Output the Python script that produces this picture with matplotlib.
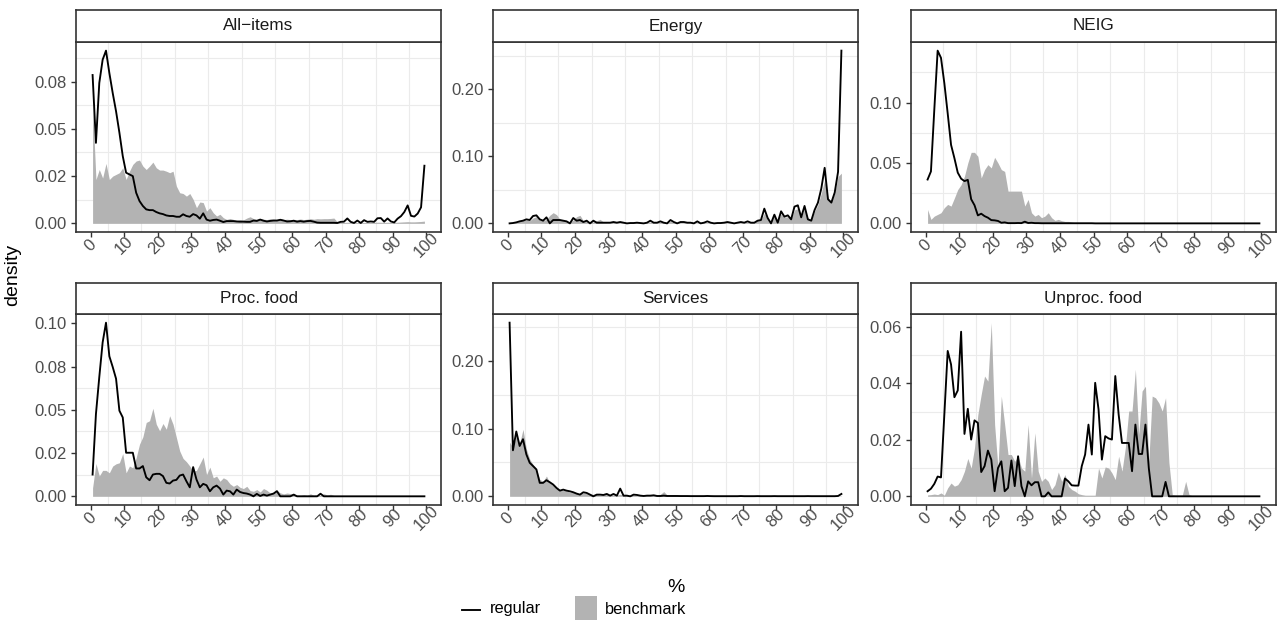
import numpy as np
import matplotlib
matplotlib.use('Agg')
from matplotlib import pyplot as plt
from matplotlib.lines import Line2D
from matplotlib.patches import Rectangle

plt.rcParams['font.family'] = ['Liberation Sans', 'DejaVu Sans']

# bin midpoints (%)
pct = np.arange(0.5, 100.0, 1.0)
x_ticks = [0, 10, 20, 30, 40, 50, 60, 70, 80, 90, 100]

allitems_regular = [
    0.0785, 0.0426, 0.0743, 0.0866, 0.0914, 0.0796, 0.069, 0.0593, 0.048, 0.0356,
    0.0268, 0.0259, 0.025, 0.0162, 0.0118, 0.0092, 0.0074, 0.007, 0.007, 0.006,
    0.0053, 0.0049, 0.0042, 0.0039, 0.0039, 0.0035, 0.0035, 0.0048, 0.0039, 0.0035,
    0.0049, 0.0042, 0.0025, 0.0053, 0.002, 0.0014, 0.0018, 0.002, 0.0014, 0.0007,
    0.0012, 0.0012, 0.0012, 0.001, 0.0009, 0.0009, 0.0008, 0.0008, 0.0015, 0.0013,
    0.002, 0.0014, 0.001, 0.0013, 0.0015, 0.0015, 0.0019, 0.0015, 0.001, 0.0011,
    0.0014, 0.0009, 0.0012, 0.0009, 0.0012, 0.0013, 0.0009, 0.0004, 0.0003, 0.0003,
    0.0003, 0.0003, 0.0003, 0.0002, 0.0008, 0.0009, 0.0026, 0.0008, 0.0002, 0.0015,
    0.0002, 0.0017, 0.0008, 0.001, 0.0008, 0.0027, 0.0028, 0.0009, 0.0026, 0.001,
    0.0005, 0.0025, 0.0038, 0.006, 0.0095, 0.004, 0.0036, 0.0052, 0.0085, 0.0305,
]
allitems_benchmark = [
    0.0629, 0.0232, 0.0285, 0.024, 0.0317, 0.0232, 0.025, 0.0259, 0.0268, 0.0294,
    0.0232, 0.0276, 0.0312, 0.033, 0.0335, 0.0303, 0.0285, 0.0303, 0.0324, 0.0294,
    0.0282, 0.0282, 0.0276, 0.0268, 0.0276, 0.0197, 0.0162, 0.0158, 0.0144, 0.0158,
    0.0127, 0.0083, 0.0113, 0.011, 0.0065, 0.0083, 0.0056, 0.0039, 0.0048, 0.003,
    0.0021, 0.0026, 0.0021, 0.0016, 0.002, 0.0018, 0.0028, 0.0035, 0.0025, 0.0022,
    0.0025, 0.0022, 0.002, 0.0024, 0.0022, 0.002, 0.0024, 0.002, 0.0022, 0.002,
    0.0021, 0.002, 0.0023, 0.002, 0.0022, 0.0025, 0.0022, 0.0025, 0.0024, 0.0025,
    0.0025, 0.0026, 0.0028, 0.0008, 0.0005, 0.0005, 0.0006, 0.0005, 0.0004, 0.0005,
    0.0005, 0.0005, 0.0005, 0.0005, 0.0005, 0.0006, 0.0006, 0.0005, 0.0006, 0.0005,
    0.0005, 0.0006, 0.0007, 0.0008, 0.0009, 0.0008, 0.0008, 0.0009, 0.001, 0.0012,
]

energy_regular = [
    0.0, 0.0005, 0.0015, 0.003, 0.004, 0.006, 0.005, 0.011, 0.012, 0.006,
    0.004, 0.009, 0.0, 0.005, 0.005, 0.005, 0.004, 0.003, 0.0, 0.008,
    0.004, 0.005, 0.002, 0.004, 0.0, 0.004, 0.001, 0.001, 0.001, 0.001,
    0.001, 0.002, 0.001, 0.002, 0.001, 0.0, 0.0005, 0.0005, 0.001, 0.0005,
    0.0, 0.001, 0.004, 0.001, 0.001, 0.003, 0.001, 0.0, 0.005, 0.002,
    0.0, 0.002, 0.002, 0.001, 0.001, 0.0, 0.003, 0.0, 0.001, 0.003,
    0.001, 0.0, 0.0005, 0.0005, 0.001, 0.002, 0.001, 0.0, 0.001, 0.002,
    0.001, 0.003, 0.001, 0.001, 0.004, 0.005, 0.022, 0.008, 0.0, 0.013,
    0.001, 0.018, 0.010, 0.012, 0.006, 0.025, 0.027, 0.009, 0.026, 0.006,
    0.004, 0.020, 0.031, 0.052, 0.083, 0.036, 0.031, 0.046, 0.077, 0.258,
]
energy_benchmark = [
    0.0, 0.001, 0.002, 0.003, 0.004, 0.005, 0.004, 0.008, 0.01, 0.005,
    0.004, 0.006, 0.012, 0.016, 0.013, 0.006, 0.004, 0.003, 0.002, 0.005,
    0.01, 0.012, 0.004, 0.003, 0.002, 0.002, 0.004, 0.006, 0.002, 0.001,
    0.001, 0.0015, 0.001, 0.001, 0.001, 0.0005, 0.0005, 0.001, 0.001, 0.0005,
    0.0005, 0.001, 0.002, 0.001, 0.001, 0.002, 0.001, 0.001, 0.003, 0.001,
    0.001, 0.001, 0.001, 0.001, 0.001, 0.0005, 0.001, 0.001, 0.001, 0.001,
    0.001, 0.0005, 0.0005, 0.0005, 0.001, 0.001, 0.001, 0.0005, 0.001, 0.001,
    0.001, 0.002, 0.001, 0.002, 0.004, 0.005, 0.015, 0.007, 0.003, 0.01,
    0.004, 0.014, 0.009, 0.01, 0.007, 0.02, 0.022, 0.01, 0.022, 0.008,
    0.006, 0.018, 0.028, 0.045, 0.065, 0.038, 0.033, 0.045, 0.07, 0.075,
]

neig_regular = [
    0.0363, 0.043, 0.094, 0.143, 0.137, 0.116, 0.091, 0.065, 0.054, 0.042,
    0.037, 0.035, 0.036, 0.020, 0.015, 0.0066, 0.008, 0.006, 0.0047, 0.0027,
    0.0025, 0.002, 0.0005, 0.0008, 0.0002, 0.0002, 0.0002, 0.0003, 0.0002, 0.0014,
    0.0003, 0.0005, 0.0002, 0.0002, 0.0001, 0.0001, 0.0001, 0.0001, 0.0001, 0.0001,
    0.0001, 0.0001, 0.0001, 0.0001, 0.0001, 0.0001, 0.0001, 0.0001, 0.0001, 0.0001,
    0.0, 0.0, 0.0, 0.0, 0.0, 0.0, 0.0, 0.0, 0.0, 0.0,
    0.0, 0.0, 0.0, 0.0, 0.0, 0.0, 0.0, 0.0, 0.0, 0.0,
    0.0, 0.0, 0.0, 0.0, 0.0, 0.0, 0.0, 0.0, 0.0, 0.0,
    0.0, 0.0, 0.0, 0.0, 0.0, 0.0, 0.0, 0.0, 0.0, 0.0,
    0.0, 0.0, 0.0, 0.0, 0.0, 0.0, 0.0, 0.0, 0.0, 0.0,
]
neig_benchmark = [
    0.0115, 0.0033, 0.006, 0.0074, 0.0088, 0.013, 0.0157, 0.0143, 0.021, 0.028,
    0.032, 0.039, 0.05, 0.0588, 0.0588, 0.0555, 0.0376, 0.0445, 0.0486, 0.0459,
    0.0547, 0.05, 0.0445, 0.043, 0.0267, 0.0267, 0.0267, 0.0267, 0.0267, 0.0143,
    0.0198, 0.0088, 0.006, 0.0074, 0.0047, 0.006, 0.0088, 0.0047, 0.0025, 0.0033,
    0.0022, 0.0016, 0.0016, 0.001, 0.0005, 0.0004, 0.0003, 0.0003, 0.0002, 0.0002,
    0.0001, 0.0001, 0.0001, 0.0001, 0.0001, 0.0001, 0.0001, 0.0001, 0.0001, 0.0001,
    0.0001, 0.0001, 0.0001, 0.0001, 0.0001, 0.0001, 0.0001, 0.0001, 0.0001, 0.0001,
    0.0, 0.0, 0.0, 0.0, 0.0, 0.0, 0.0, 0.0, 0.0, 0.0,
    0.0, 0.0, 0.0, 0.0, 0.0, 0.0, 0.0, 0.0, 0.0, 0.0,
    0.0, 0.0, 0.0, 0.0, 0.0, 0.0, 0.0, 0.0, 0.0, 0.0,
]

procfood_regular = [
    0.0126, 0.0476, 0.069, 0.089, 0.1004, 0.081, 0.0748, 0.068, 0.0495, 0.0456,
    0.0252, 0.0252, 0.0252, 0.0161, 0.0161, 0.0175, 0.011, 0.0093, 0.0126, 0.013,
    0.013, 0.0117, 0.0078, 0.0074, 0.0091, 0.0095, 0.012, 0.0126, 0.0087, 0.0052,
    0.0169, 0.0097, 0.0052, 0.0072, 0.0064, 0.0029, 0.0052, 0.0062, 0.0045, 0.001,
    0.0033, 0.0029, 0.001, 0.0039, 0.0025, 0.0019, 0.0016, 0.001, 0.0, 0.0014,
    0.0002, 0.001, 0.0004, 0.001, 0.0016, 0.003, 0.0, 0.0, 0.0, 0.0,
    0.001, 0.0, 0.0, 0.0, 0.0, 0.0, 0.0, 0.0, 0.0015, 0.0,
    0.0, 0.0, 0.0, 0.0, 0.0, 0.0, 0.0, 0.0, 0.0, 0.0,
    0.0, 0.0, 0.0, 0.0, 0.0, 0.0, 0.0, 0.0, 0.0, 0.0,
    0.0, 0.0, 0.0, 0.0, 0.0, 0.0, 0.0, 0.0, 0.0, 0.0,
]
procfood_benchmark = [
    0.0049, 0.019, 0.0117, 0.015, 0.015, 0.0136, 0.0175, 0.0188, 0.0194, 0.0247,
    0.0136, 0.0175, 0.0165, 0.0223, 0.0301, 0.0344, 0.0427, 0.0437, 0.0509, 0.0417,
    0.0379, 0.0421, 0.0388, 0.0466, 0.0417, 0.034, 0.0262, 0.0219, 0.02, 0.0175,
    0.0146, 0.015, 0.0188, 0.0227, 0.0126, 0.0169, 0.0107, 0.0117, 0.0087, 0.0107,
    0.0097, 0.0072, 0.0058, 0.0068, 0.0052, 0.0045, 0.0058, 0.0033, 0.0029, 0.0039,
    0.0025, 0.0045, 0.0035, 0.0019, 0.0023, 0.0033, 0.002, 0.0014, 0.0019, 0.0016,
    0.001, 0.0008, 0.0006, 0.001, 0.0006, 0.0015, 0.0006, 0.001, 0.0005, 0.0015,
    0.0008, 0.0012, 0.0005, 0.0002, 0.0001, 0.0001, 0.0001, 0.0001, 0.0001, 0.0001,
    0.0001, 0.0001, 0.0001, 0.0001, 0.0, 0.0, 0.0, 0.0, 0.0, 0.0,
    0.0, 0.0, 0.0, 0.0, 0.0, 0.0, 0.0, 0.0, 0.0, 0.0,
]

services_regular = [
    0.2566, 0.068, 0.0958, 0.0744, 0.0844, 0.062, 0.0496, 0.0447, 0.0397, 0.0199,
    0.0199, 0.0238, 0.0208, 0.0174, 0.0124, 0.0084, 0.0099, 0.0084, 0.0074, 0.006,
    0.004, 0.0025, 0.006, 0.005, 0.0025, 0.0, 0.0025, 0.0025, 0.002, 0.0035,
    0.001, 0.0035, 0.001, 0.0114, 0.001, 0.001, 0.0, 0.0025, 0.002, 0.001,
    0.0005, 0.001, 0.001, 0.0015, 0.0005, 0.0005, 0.001, 0.0005, 0.0005, 0.0005,
    0.0005, 0.0004, 0.0004, 0.0004, 0.0003, 0.0003, 0.0003, 0.0003, 0.0003, 0.0005,
    0.0003, 0.0002, 0.0002, 0.0002, 0.0002, 0.0002, 0.0002, 0.0002, 0.0002, 0.0004,
    0.0002, 0.0002, 0.0002, 0.0002, 0.0003, 0.0002, 0.0002, 0.0002, 0.0002, 0.0003,
    0.0002, 0.0002, 0.0002, 0.0002, 0.0002, 0.0002, 0.0002, 0.0002, 0.0002, 0.0003,
    0.0002, 0.0002, 0.0002, 0.0002, 0.0002, 0.0002, 0.0002, 0.0002, 0.0005, 0.0035,
]
services_benchmark = [
    0.08, 0.072, 0.09, 0.078, 0.099, 0.07, 0.055, 0.047, 0.04, 0.025,
    0.022, 0.03, 0.02, 0.016, 0.013, 0.01, 0.009, 0.008, 0.006, 0.006,
    0.004, 0.004, 0.005, 0.004, 0.003, 0.003, 0.003, 0.002, 0.003, 0.003,
    0.002, 0.002, 0.002, 0.003, 0.002, 0.002, 0.001, 0.002, 0.001, 0.001,
    0.001, 0.001, 0.001, 0.001, 0.001, 0.003, 0.007, 0.002, 0.001, 0.002,
    0.001, 0.0015, 0.001, 0.001, 0.001, 0.001, 0.0008, 0.0008, 0.0008, 0.001,
    0.0005, 0.0005, 0.0005, 0.0005, 0.0005, 0.0005, 0.0005, 0.0005, 0.0005, 0.001,
    0.0005, 0.0005, 0.0005, 0.0005, 0.001, 0.0005, 0.0005, 0.0005, 0.0005, 0.001,
    0.0005, 0.0005, 0.0005, 0.0005, 0.0005, 0.0005, 0.0005, 0.0005, 0.0005, 0.001,
    0.0005, 0.0005, 0.0005, 0.0005, 0.0005, 0.0005, 0.0005, 0.0005, 0.0005, 0.0005,
]

unprocfood_regular = [
    0.0018, 0.0027, 0.0044, 0.007, 0.0067, 0.029, 0.0515, 0.0467, 0.0351, 0.0375,
    0.0583, 0.0221, 0.031, 0.0201, 0.0269, 0.026, 0.0086, 0.0107, 0.0162, 0.013,
    0.0018, 0.01, 0.0124, 0.0018, 0.003, 0.0127, 0.0036, 0.0142, 0.0036, 0.0,
    0.0053, 0.0039, 0.005, 0.005, 0.0, 0.0, 0.0014, 0.0, 0.0, 0.0,
    0.0, 0.0063, 0.0053, 0.0039, 0.0038, 0.0038, 0.0107, 0.0148, 0.0254, 0.0148,
    0.0402, 0.0308, 0.013, 0.0213, 0.0205, 0.0201, 0.0426, 0.029, 0.0189, 0.0189,
    0.0189, 0.0089, 0.0254, 0.015, 0.015, 0.0254, 0.01, 0.0, 0.0, 0.0,
    0.0, 0.0051, 0.0, 0.0, 0.0, 0.0, 0.0, 0.0, 0.0, 0.0,
    0.0, 0.0, 0.0, 0.0, 0.0, 0.0, 0.0, 0.0, 0.0, 0.0,
    0.0, 0.0, 0.0, 0.0, 0.0, 0.0, 0.0, 0.0, 0.0, 0.0,
]
unprocfood_benchmark = [
    0.0005, 0.0006, 0.0008, 0.0006, 0.0012, 0.0004, 0.003, 0.0047, 0.0036, 0.0041,
    0.0059, 0.0089, 0.0134, 0.01, 0.0172, 0.029, 0.0361, 0.0426, 0.0408, 0.0615,
    0.0254, 0.01, 0.0355, 0.0254, 0.0148, 0.0148, 0.0124, 0.0142, 0.01, 0.0089,
    0.0254, 0.0065, 0.0225, 0.0089, 0.0053, 0.0065, 0.0053, 0.0024, 0.0041, 0.0086,
    0.0053, 0.0077, 0.0036, 0.0024, 0.0018, 0.0009, 0.0006, 0.0004, 0.0004, 0.0004,
    0.0004, 0.01, 0.0065, 0.0104, 0.01, 0.0083, 0.0059, 0.0142, 0.0089, 0.0172,
    0.0302, 0.0302, 0.045, 0.0219, 0.0373, 0.039, 0.0124, 0.0355, 0.0349, 0.0331,
    0.0302, 0.0349, 0.012, 0.0006, 0.0004, 0.0004, 0.0004, 0.0053, 0.0006, 0.0002,
    0.0002, 0.0002, 0.0002, 0.0002, 0.0002, 0.0002, 0.0002, 0.0002, 0.0002, 0.0002,
    0.0002, 0.0002, 0.0002, 0.0002, 0.0002, 0.0002, 0.0002, 0.0002, 0.0002, 0.0002,
]

facets = ['All\u2212items', 'Energy', 'NEIG', 'Proc. food', 'Services', 'Unproc. food']
regular = [allitems_regular, energy_regular, neig_regular,
           procfood_regular, services_regular, unprocfood_regular]
benchmark = [allitems_benchmark, energy_benchmark, neig_benchmark,
             procfood_benchmark, services_benchmark, unprocfood_benchmark]
y_ticks = [[0, 0.025, 0.05, 0.075], [0, 0.1, 0.2], [0, 0.05, 0.1],
           [0, 0.025, 0.05, 0.075, 0.1], [0, 0.1, 0.2], [0, 0.02, 0.04, 0.06]]
y_labels = [['0.00', '0.02', '0.05', '0.08'], ['0.00', '0.10', '0.20'],
            ['0.00', '0.05', '0.10'], ['0.00', '0.02', '0.05', '0.08', '0.10'],
            ['0.00', '0.10', '0.20'], ['0.00', '0.02', '0.04', '0.06']]

W, H = 1282, 621
fig = plt.figure(figsize=(W / 100, H / 100), dpi=100)


def box(left, top, right, bottom):
    # pixel box -> figure fraction
    return [left / W, 1 - bottom / H, (right - left) / W, (bottom - top) / H]


cols = [(76, 441), (493, 858), (911, 1276)]
rows = [(10, 42, 232), (283, 314, 505)]
border = '#333333'
grid_col = '#EBEBEB'
fill_col = '#B3B3B3'

for i, name in enumerate(facets):
    r, c = divmod(i, 3)
    x0, x1 = cols[c]
    s_top, p_top, p_bot = rows[r]
    ax = fig.add_axes(box(x0, p_top, x1, p_bot))

    reg = np.array(regular[i])
    ben = np.array(benchmark[i])
    ymax = max(reg.max(), ben.max())
    xr = pct[-1] - pct[0]
    ax.set_xlim(pct[0] - 0.05 * xr, pct[-1] + 0.05 * xr)
    ax.set_ylim(-0.05 * ymax, 1.05 * ymax)

    # only the minor grid is shown
    yt = y_ticks[i]
    step = yt[1] - yt[0]
    ax.set_xticks(np.arange(5, 100, 10), minor=True)
    ax.set_yticks(np.arange(yt[0] + step / 2, 1.05 * ymax, step), minor=True)
    ax.grid(which='minor', color=grid_col, linewidth=0.8, zorder=0)
    ax.grid(which='major', visible=False)
    ax.set_axisbelow(True)

    ax.fill_between(pct, 0, ben, color=fill_col, linewidth=0, zorder=2)
    ax.plot(pct, reg, color='black', linewidth=1.35, zorder=3)

    ax.set_xticks(x_ticks)
    ax.set_xticklabels([str(t) for t in x_ticks], rotation=45, ha='center', va='center')
    ax.set_yticks(yt)
    ax.set_yticklabels(y_labels[i])
    ax.tick_params(which='major', direction='out', length=3.8, width=1.0, color=border,
                   labelcolor='#4D4D4D', labelsize=12)
    ax.tick_params(axis='x', which='major', pad=5.6)
    ax.tick_params(axis='y', which='major', pad=2.6)
    ax.tick_params(which='minor', length=0)
    for sp in ax.spines.values():
        sp.set_color(border)
        sp.set_linewidth(1.2)

    sax = fig.add_axes(box(x0, s_top, x1, p_top))
    sax.set_xticks([])
    sax.set_yticks([])
    sax.set_facecolor('white')
    for sp in sax.spines.values():
        sp.set_color(border)
        sp.set_linewidth(1.2)
    sax.text(0.5, 0.5, name, ha='center', va='center', fontsize=12.3,
             color='#1A1A1A', transform=sax.transAxes)

fig.text(676 / W, 1 - 587 / H, '%', ha='center', va='center', fontsize=14)
fig.text(13 / W, 1 - 275 / H, 'density', ha='center', va='center', rotation=90, fontsize=14)

# legend drawn by hand at the bottom
fig.add_artist(Line2D([462 / W, 480 / W], [1 - 610 / H, 1 - 610 / H],
                      transform=fig.transFigure, color='black', linewidth=1.35))
fig.text(490 / W, 1 - 609 / H, 'regular', ha='left', va='center', fontsize=11.8)
fig.add_artist(Rectangle((575 / W, 1 - 620 / H), 22 / W, 24 / H,
                         transform=fig.transFigure, facecolor=fill_col, edgecolor='none'))
fig.text(605 / W, 1 - 609 / H, 'benchmark', ha='left', va='center', fontsize=11.8)

fig.savefig('out.png', dpi=100)
